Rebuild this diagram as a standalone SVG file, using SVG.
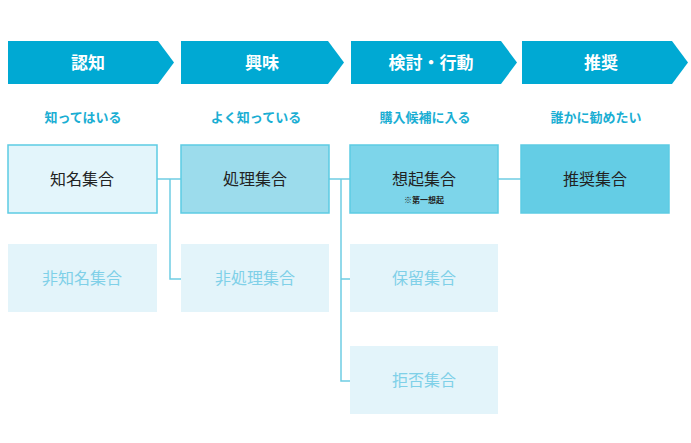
<svg xmlns="http://www.w3.org/2000/svg" width="691" height="443" viewBox="0 0 691 443">
<style>
.stage{fill:#00a9d3}
.st{font-family:"Noto Sans CJK JP",sans-serif;font-weight:bold;font-size:17px;fill:#fff;text-anchor:middle}
.sub{font-family:"Noto Sans CJK JP",sans-serif;font-weight:bold;font-size:13px;fill:#1aaed3;text-anchor:middle}
.bt{font-family:"Noto Sans CJK JP",sans-serif;font-size:16px;fill:#222;text-anchor:middle}
.lt{font-family:"Noto Sans CJK JP",sans-serif;font-size:16px;fill:#7fd0e8;text-anchor:middle}
.box{stroke:#5ccbe3;stroke-width:1.5}
.light{fill:#e3f4fa}
.con{stroke:#6fcde3;stroke-width:1.5;fill:none}
</style>
<rect width="691" height="443" fill="#fff"/>
<g id="stages">
<polygon class="stage" points="8,41 158,41 174,62.5 158,84 8,84"/>
<text class="st" x="88" y="69">認知</text>
<polygon class="stage" points="181,41 328,41 344,62.5 328,84 181,84"/>
<text class="st" x="262" y="69">興味</text>
<polygon class="stage" points="351,41 501,41 517,62.5 501,84 351,84"/>
<text class="st" x="431" y="69">検討・行動</text>
<polygon class="stage" points="522,41 672,41 688,62.5 672,84 522,84"/>
<text class="st" x="601" y="69">推奨</text>
<text class="sub" x="83" y="122">知ってはいる</text>
<text class="sub" x="256" y="122">よく知っている</text>
<text class="sub" x="425" y="122">購入候補に入る</text>
<text class="sub" x="596" y="122">誰かに勧めたい</text>
</g>
<g id="connectors">
<path class="con" d="M157,179 H181 M170,179 V279 H181 M329,179 H350 M341,179 V381 H350 M341,279 H350 M498,179 H521"/>
</g>
<g id="n1"><rect class="box" x="8" y="145" width="149" height="68" fill="#e3f5fb"/><text class="bt" x="82" y="185">知名集合</text></g>
<g id="n2"><rect class="box" x="181" y="145" width="148" height="68" fill="#9cdcec"/><text class="bt" x="255" y="185">処理集合</text></g>
<g id="n3"><rect class="box" x="350" y="145" width="148" height="68" fill="#7dd5ea"/><text class="bt" x="424" y="185">想起集合</text><text x="424" y="203" font-family="Noto Sans CJK JP,sans-serif" font-size="8" font-weight="bold" fill="#222" text-anchor="middle">※第一想起</text></g>
<g id="n4"><rect class="box" x="521" y="145" width="148" height="68" fill="#64cde5"/><text class="bt" x="595" y="185">推奨集合</text></g>
<g id="n5"><rect class="light" x="8" y="244" width="149" height="68"/><text class="lt" x="82" y="284">非知名集合</text></g>
<g id="n6"><rect class="light" x="181" y="244" width="148" height="68"/><text class="lt" x="255" y="284">非処理集合</text></g>
<g id="n7"><rect class="light" x="350" y="244" width="148" height="68"/><text class="lt" x="424" y="284">保留集合</text></g>
<g id="n8"><rect class="light" x="350" y="346" width="148" height="68"/><text class="lt" x="424" y="386">拒否集合</text></g>
</svg>
